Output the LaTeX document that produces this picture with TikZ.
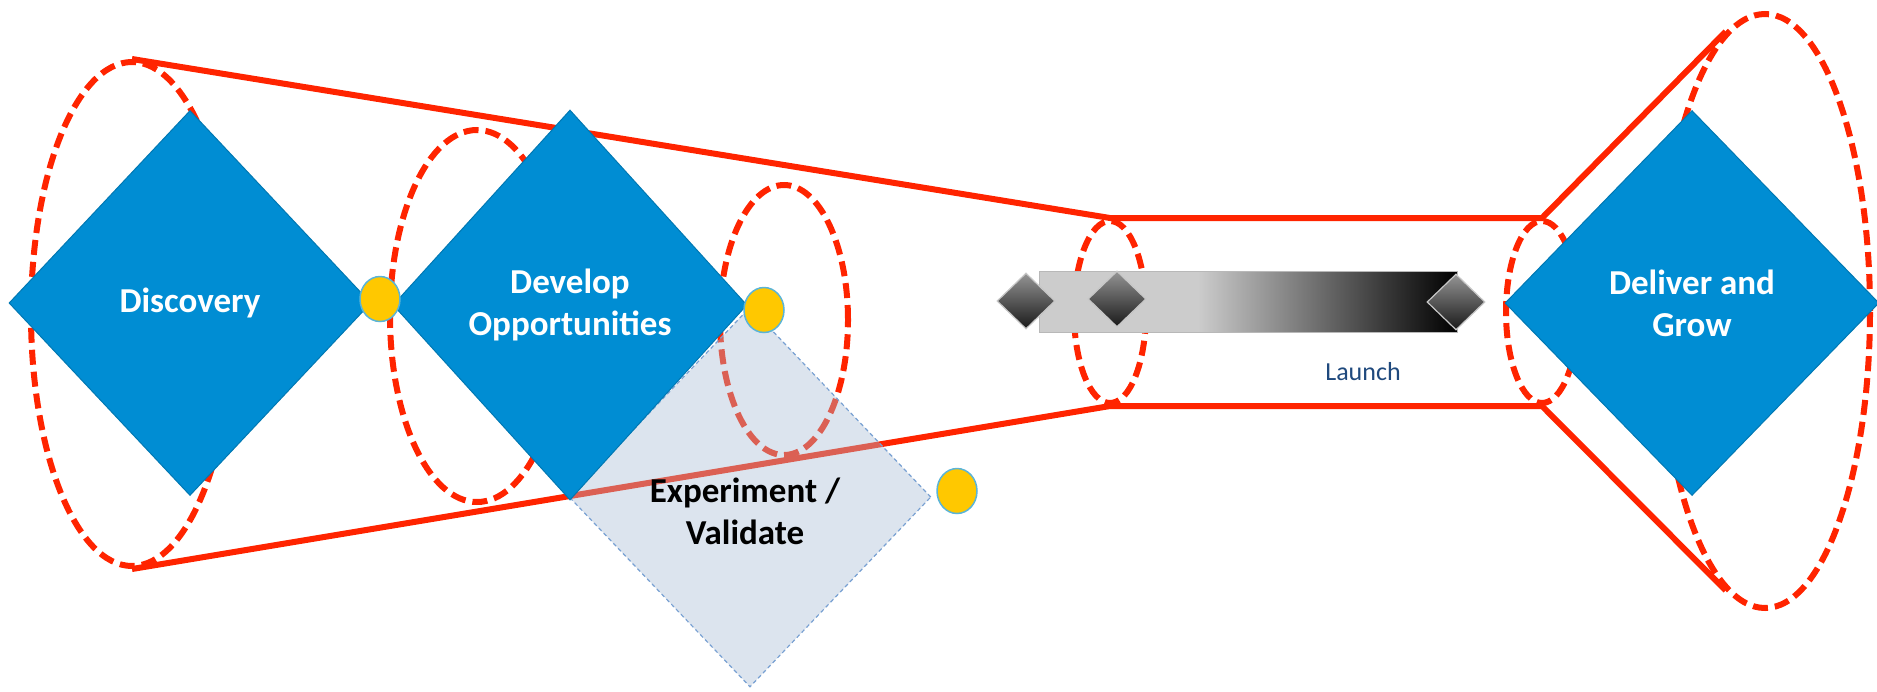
\documentclass[tikz,border=0pt]{standalone}
\usepackage{fontspec}
\setmainfont{Carlito}
\usepackage{tikz}
\usetikzlibrary{shapes.geometric}
\usepackage{xcolor}

\definecolor{stageblue}{RGB}{0,141,211}
\definecolor{linered}{RGB}{255,36,0}
\definecolor{trialfill}{RGB}{167,187,212}
\definecolor{trialedge}{RGB}{120,160,210}
\definecolor{dotyellow}{RGB}{255,200,0}
\definecolor{dotedge}{RGB}{91,180,215}
\definecolor{barlight}{RGB}{204,204,204}
\definecolor{launchblue}{RGB}{31,73,125}
\pgfdeclarehorizontalshading{launchshade}{100bp}{color(0bp)=(barlight); color(25bp)=(barlight); color(44bp)=(barlight); color(75bp)=(black); color(100bp)=(black)}

\begin{document}
\begin{tikzpicture}[
  x=1pt, y=-1pt,
  stage/.style={diamond, fill=stageblue, draw=stageblue!85!black, line width=1pt, inner sep=0pt, text=white, align=center, font=\bfseries\fontsize{35}{42}\selectfont},
  trial/.style={diamond, fill=trialfill, fill opacity=0.4, draw=trialedge, line width=1.2pt, dash pattern=on 4pt off 3pt, inner sep=0pt},
  ring/.style={ellipse, draw=linered, line width=6pt, dash pattern=on 15pt off 7pt, inner sep=0pt},
  link/.style={draw=linered, line width=6pt},
  dot/.style={ellipse, fill=dotyellow, draw=dotedge, line width=1.5pt, minimum width=40pt, minimum height=45pt, inner sep=0pt},
  marker/.style={diamond, top color=black!42, bottom color=black!90, draw=black!22, line width=1.2pt, minimum width=58pt, minimum height=56pt, inner sep=0pt}
]
\useasboundingbox (0,0) rectangle (1877,691);

\node[ring, minimum width=202pt, minimum height=504pt] (r1) at (132,314) {};
\node[ring, minimum width=174pt, minimum height=372pt] (r2) at (477,316) {};
\node[ring, minimum width=128pt, minimum height=270pt] (r3) at (784,320) {};
\node[ring, minimum width=72pt, minimum height=182pt] (r4) at (1110,312) {};
\node[ring, minimum width=72pt, minimum height=182pt] (r5) at (1542,312) {};
\node[ring, minimum width=210pt, minimum height=594pt] (r6) at (1765,311) {};

\draw[link] (r1.north) -- (r4.north) -- (r5.north) -- (r6.98);
\draw[link] (r1.south) -- (r4.south) -- (r5.south) -- (r6.-98);

\node[trial, minimum width=362pt, minimum height=380pt] (exp) at (750,497) {};
\node[align=center, font=\bfseries\fontsize{35}{42}\selectfont] (exptext) at (745,511) {Experiment /\\Validate};

\node[stage, minimum width=362pt, minimum height=385pt] (disc) at (190,303) {Discovery};
\node[stage, minimum width=354pt, minimum height=390pt] (dev) at (570,305) {Develop\\Opportunities};
\node[stage, minimum width=374pt, minimum height=385pt] (grow) at (1692,303) {Deliver and\\Grow};

\node[rectangle, shading=launchshade, draw=black!28, line width=1pt, minimum width=418pt, minimum height=61pt, inner sep=0pt] (bar) at (1248,301.5) {};
\node[marker] (m1) at (1026,301) {};
\node[marker] (m2) at (1117,299) {};
\node[marker] (m3) at (1456,302) {};
\node[text=launchblue, font=\fontsize{26}{30}\selectfont] (launch) at (1363,372) {Launch};

\node[dot] (d1) at (380,299) {};
\node[dot] (d2) at (764,310) {};
\node[dot] (d3) at (957,491) {};

\end{tikzpicture}
\end{document}
